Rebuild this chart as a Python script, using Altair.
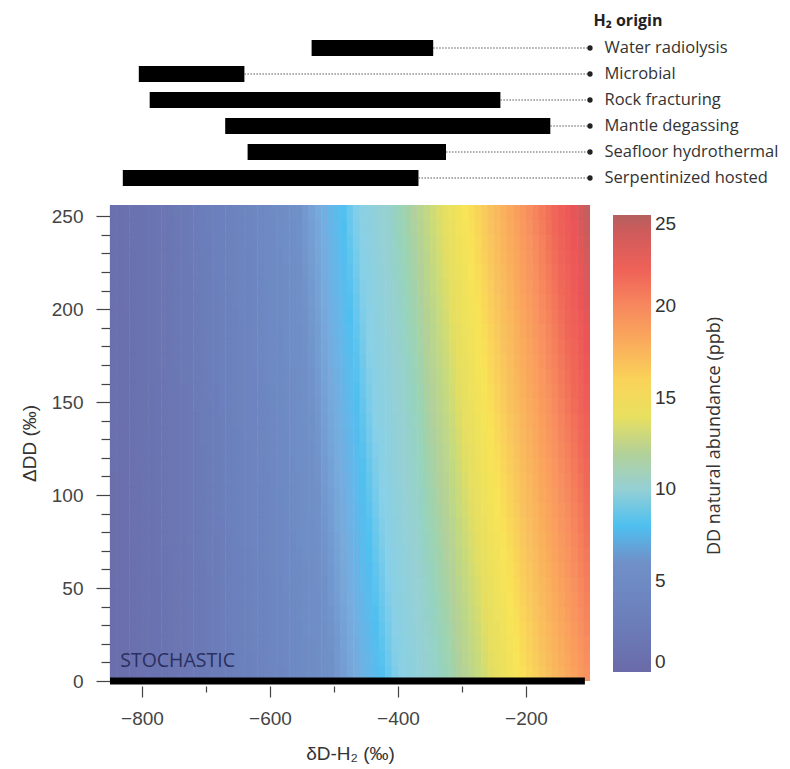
import altair as alt
import pandas as pd

# ---- H2 origin ranges (δD-H2, ‰) ----
origins = ["Water radiolysis", "Microbial", "Rock fracturing", "Mantle degassing",
           "Seafloor hydrothermal", "Serpentinized hosted"]
origin_min = [-535, -805, -788, -670, -635, -830]
origin_max = [-345, -640, -240, -162, -325, -368]
origin_end = [-100, -100, -100, -100, -100, -100]

# ---- heat map: δD column centres (‰), stochastic DD abundance (ppb) per column ----
dD_centres = list(range(-845, -100, 10))
stochastic_ppb = [0.58, 0.66, 0.74, 0.83, 0.92, 1.02, 1.12, 1.23, 1.34, 1.46,
                  1.58, 1.70, 1.84, 1.97, 2.11, 2.26, 2.41, 2.56, 2.72, 2.89,
                  3.06, 3.23, 3.41, 3.60, 3.79, 3.98, 4.18, 4.38, 4.59, 4.80,
                  5.02, 5.25, 5.47, 5.71, 5.94, 6.19, 6.43, 6.69, 6.94, 7.21,
                  7.47, 7.74, 8.02, 8.30, 8.59, 8.88, 9.18, 9.48, 9.78, 10.09,
                  10.41, 10.73, 11.05, 11.38, 11.72, 12.06, 12.40, 12.75, 13.11, 13.47,
                  13.83, 14.20, 14.57, 14.95, 15.33, 15.72, 16.11, 16.51, 16.92, 17.32,
                  17.74, 18.15, 18.57, 19.00, 19.43]
dDD_rows = list(range(0, 256, 8))  # ΔDD row lower edges (‰)

# axis ticks
x_ticks = [-800, -700, -600, -500, -400, -300, -200]
y_ticks = [0, 10, 20, 30, 40, 50, 60, 70, 80, 90, 100, 110, 120, 130, 140, 150,
           160, 170, 180, 190, 200, 210, 220, 230, 240, 250]

# colour scale stops
cbar_stops = [0, 3, 6, 6.9, 8, 8.8, 10.2, 11.9, 13.6, 15.2, 16.8, 19.6, 21.5, 23, 25]
cbar_colors = ["#6a6aa8", "#6b80bc", "#7090c8", "#78aadc", "#4ec0f0", "#88d0e8",
               "#98d0d2", "#b2d09a", "#e4de62", "#f8e456", "#f8c25e", "#f89060",
               "#f06858", "#ec5458", "#b4605e"]

FONT = "Liberation Sans"
TFONT = "Open Sans"
W, H = 480, 476

rows = []
for c, v in zip(dD_centres, stochastic_ppb):
    for r in dDD_rows:
        rows.append({"x": c - 5, "x2": c + 5.8, "y": r, "y2": r + 8.6,
                     "dd": v * (1 + (r + 4) / 1000.0)})
heat_df = pd.DataFrame(rows)

xscale = alt.Scale(domain=[-850, -100], nice=False, zero=False)
yscale = alt.Scale(domain=[0, 256], nice=False)
cscale = alt.Scale(domain=cbar_stops, range=cbar_colors, type="linear")

xaxis = alt.Axis(title="δD-H₂ (‰)", values=x_ticks,
                 labelExpr="datum.value % 200 === 0 ? datum.label : ''",
                 tickSize={"condition": {"test": "datum.value % 200 === 0", "value": 11}, "value": 6},
                 labelOverlap=False,
                 domain=False, offset=5, labelPadding=12, titlePadding=16,
                 labelFont=FONT, labelFontSize=19, labelColor="#444",
                 titleFont=FONT, titleFontSize=19, titleFontWeight="normal", titleColor="#333",
                 tickColor="#444", tickWidth=1.2, grid=False)
yaxis = alt.Axis(title="ΔDD (‰)", values=y_ticks,
                 labelExpr="datum.value % 50 === 0 ? datum.label : ''",
                 tickSize={"condition": {"test": "datum.value % 50 === 0", "value": 14}, "value": 9},
                 labelOverlap=False,
                 domainColor="#444", domainWidth=1.2, labelPadding=13, titlePadding=12,
                 labelFont=FONT, labelFontSize=19, labelColor="#444",
                 titleFont=FONT, titleFontSize=19, titleFontWeight="normal", titleColor="#333",
                 tickColor="#444", tickWidth=1.2, grid=False)

heat = alt.Chart(heat_df).mark_rect(clip=True).encode(
    x=alt.X("x:Q", scale=xscale, axis=xaxis),
    x2="x2:Q",
    y=alt.Y("y:Q", scale=yscale, axis=yaxis),
    y2="y2:Q",
    color=alt.Color("dd:Q", scale=cscale,
                    legend=alt.Legend(title=None, type="gradient", orient="none",
                                      legendX=W + 23, legendY=10, direction="vertical",
                                      values=[0, 5, 10, 15, 20, 25],
                                      gradientLength=457, gradientThickness=38,
                                      gradientStrokeWidth=0,
                                      labelFont=FONT, labelFontSize=19, labelColor="#333",
                                      labelOffset=4)),
)

stoch_df = pd.DataFrame({"x": [-850], "x2": [-108], "y": [0], "label": ["STOCHASTIC"],
                         "tx": [-834], "ty": [7.5]})
stoch_line = alt.Chart(stoch_df).mark_rule(color="black", strokeWidth=7).encode(
    x=alt.X("x:Q", scale=xscale, axis=xaxis), x2="x2:Q",
    y=alt.Y("y:Q", scale=yscale, axis=yaxis))
stoch_text = alt.Chart(stoch_df).mark_text(align="left", baseline="alphabetic",
                                           font=TFONT, fontSize=19.5, color="#2a3060").encode(
    x=alt.X("tx:Q", scale=xscale, axis=xaxis), y=alt.Y("ty:Q", scale=yscale, axis=yaxis),
    text="label:N")

cbar_title = alt.Chart(pd.DataFrame({"t": ["DD natural abundance (ppb)"]})).mark_text(
    angle=270, align="center", baseline="middle", font=TFONT, fontSize=18, color="#333"
).encode(x=alt.value(W + 125), y=alt.value(H / 2 - 7), text="t:N")

main = alt.layer(heat, stoch_line, stoch_text, cbar_title).properties(width=W, height=H)

# ---- top panel ----
org_df = pd.DataFrame({"origin": origins, "lo": origin_min, "hi": origin_max, "end": origin_end})
yband = alt.Scale(domain=origins, paddingInner=0.38, paddingOuter=0.19)
ybase = alt.Y("origin:N", sort=origins, scale=yband,
              axis=alt.Axis(orient="right", title="H₂ origin", titleAngle=0, titleAlign="left",
                            titleBaseline="middle", titleX=3, titleY=-15,
                            titleFont=TFONT, titleFontSize=16, titleFontWeight="bold",
                            titleColor="#222", labelFont=TFONT, labelFontSize=16.5,
                            labelColor="#333", labelPadding=14, ticks=False, domain=False,
                            labelLimit=300))
xtop = alt.X("lo:Q", scale=xscale,
             axis=alt.Axis(title=None, values=[-800, -600, -400, -200], labels=False,
                           domain=False, tickSize=5, tickColor="#444", grid=False))

dots_line = alt.Chart(org_df).mark_rule(color="#555", strokeWidth=1.2, strokeDash=[1.5, 1.5]).encode(
    x=alt.X("hi:Q", scale=xscale, axis=None), x2="end:Q", y=ybase)
bars = alt.Chart(org_df).mark_bar(color="black").encode(x=xtop, x2="hi:Q", y=ybase)
dots = alt.Chart(org_df).mark_point(filled=True, color="#222", size=28, opacity=1).encode(
    x=alt.X("end:Q", scale=xscale, axis=None), y=ybase)

top = alt.layer(bars, dots_line, dots).properties(width=W, height=156)

chart = alt.vconcat(top, main, spacing=14).resolve_scale(color="independent").resolve_legend(
    color="independent"
).properties(
    padding={"left": 12, "top": 4, "right": 0, "bottom": 5}
).configure_view(stroke=None)

chart.save("out.html", embed_options={"renderer": "svg", "actions": False})
